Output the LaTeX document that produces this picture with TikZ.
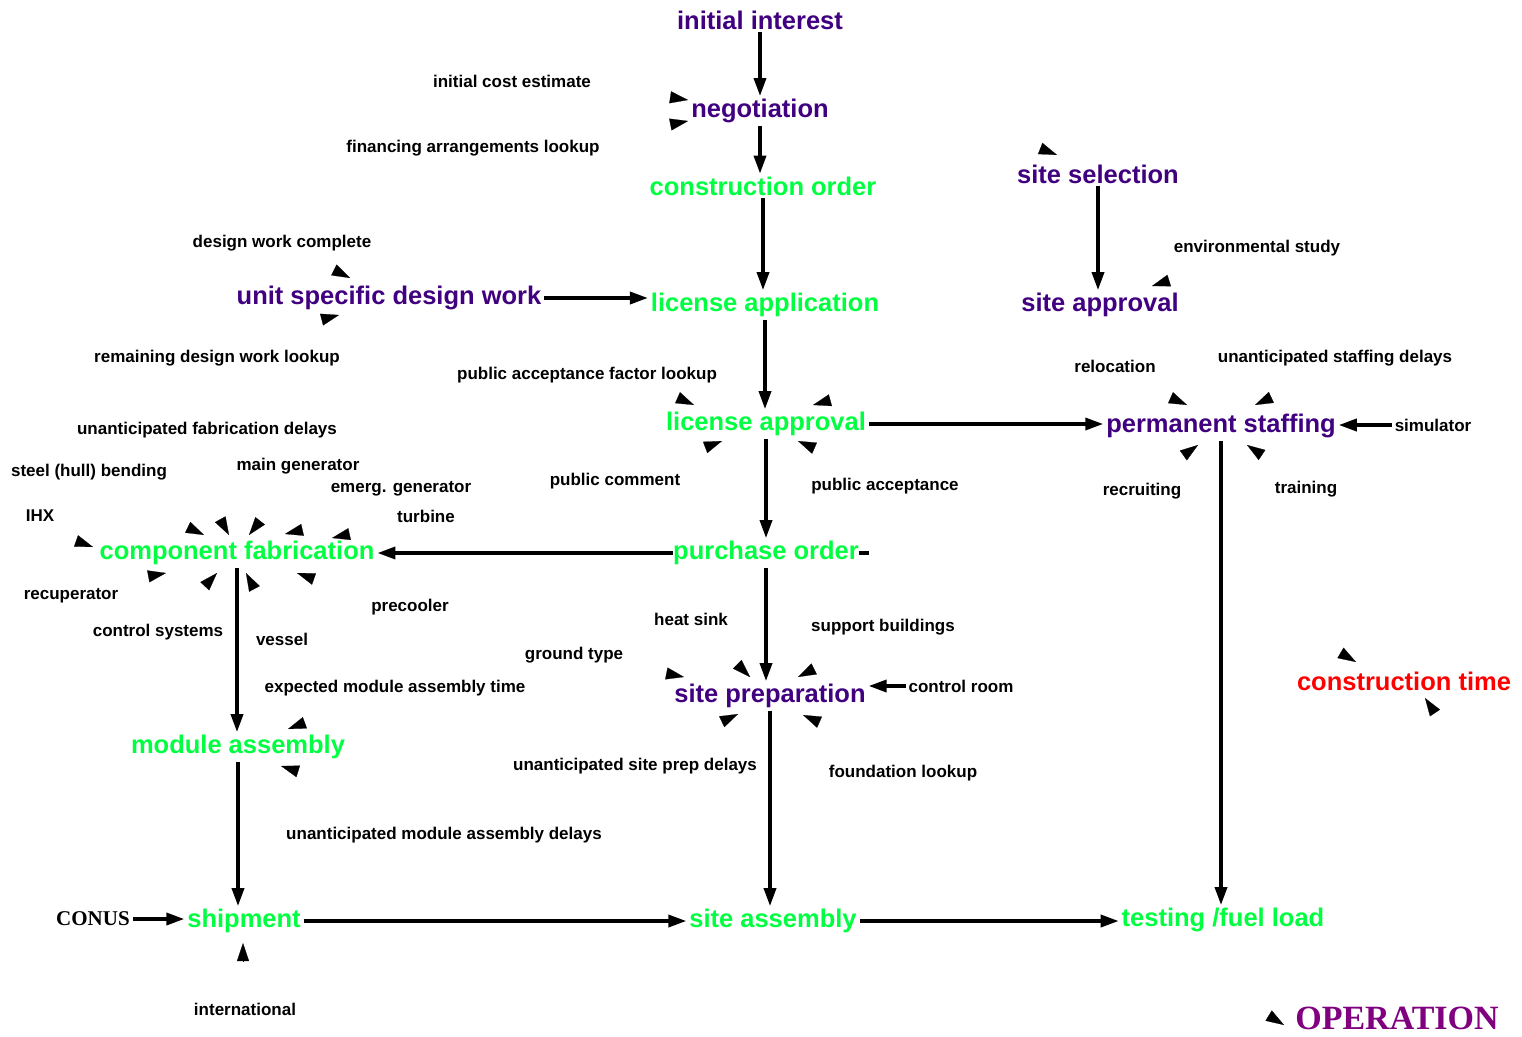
\documentclass[tikz,border=0pt]{standalone}
\usepackage{fontspec}
\setmainfont{Liberation Sans}
\newfontfamily\opfont{Liberation Serif}
\usetikzlibrary{arrows.meta,calc,backgrounds}
\definecolor{lvpurple}{HTML}{400080}
\definecolor{flgreen}{HTML}{00FF40}
\definecolor{opred}{HTML}{FF0000}
\definecolor{opviolet}{HTML}{800080}
\tikzset{
  base/.style={inner sep=0pt, outer sep=0pt, anchor=center},
  stock/.style={base, font=\bfseries\fontsize{25.5}{27}\selectfont, text=lvpurple},
  flow/.style={base, font=\bfseries\fontsize{25.5}{27}\selectfont, text=flgreen},
  aux/.style={base, font=\bfseries\fontsize{17}{18}\selectfont, text=black},
  conn/.style={line width=3.5pt, -{Triangle[length=18pt,width=12pt]}, shorten >=3pt, shorten <=3pt},
  stubhead/.style={line width=0.2pt, -{Triangle[length=18pt,width=12pt]}}
}
\newcommand\arrowstub[2]{\draw[stubhead] ($(#1)!18pt!(#2)$) -- (#1);}
\begin{document}
\begin{tikzpicture}[x=1pt,y=-1pt]
\useasboundingbox (0,0) rectangle (1522,1036);
\begin{scope}[on background layer]
\fill[white] (0,0) rectangle (1522,1036);
\end{scope}

% main chain nodes
\node[stock] (ii)   at (760,20)  {initial interest};
\node[stock] (neg)  at (760,111) {negotiation};
\node[flow]  (co)   at (763,186) {construction order};
\node[stock] (ss)   at (1098,174) {site selection};
\node[stock] (sa)   at (1100,305) {site approval};
\node[stock] (usdw) at (389,298) {unit specific design work};
\node[flow]  (lapp) at (765,305) {license application};
\node[flow]  (lappr) at (766,424) {license approval};
\node[stock] (ps)   at (1221,426) {permanent staffing};
\node[flow]  (cf)   at (237,553) {component fabrication};
\node[flow, fill=white]  (po)   at (766,553) {purchase order};
\node[stock] (sp)   at (770,696) {site preparation};
\node[flow]  (ma)   at (238,747) {module assembly};
\node[base, font=\bfseries\fontsize{25.5}{27}\selectfont, text=opred] (ct) at (1404,681) {construction time};
\node[flow]  (sh)   at (244,921) {shipment};
\node[flow]  (sasm) at (773,921) {site assembly};
\node[flow]  (tfl)  at (1223,920) {testing /fuel load};
\node[base, font=\opfont\bfseries\fontsize{34}{35}\selectfont, text=opviolet] (op) at (1397,1018) {OPERATION};
\node[base, font=\opfont\bfseries\fontsize{21}{22}\selectfont] (conus) at (93,919) {CONUS};

% auxiliary labels
\node[aux] (ice)   at (512,81)  {initial cost estimate};
\node[aux] (fal)   at (473,148) {financing arrangements lookup};
\node[aux] (dwc)   at (282,243) {design work complete};
\node[aux] (es)    at (1257,248) {environmental study};
\node[aux] (rdwl)  at (217,358) {remaining design work lookup};
\node[aux] (pafl)  at (587,375) {public acceptance factor lookup};
\node[aux] (reloc) at (1115,366) {relocation};
\node[aux] (usd)   at (1335,358) {unanticipated staffing delays};
\node[aux] (ufd)   at (207,430) {unanticipated fabrication delays};
\node[aux] (shb)   at (89,472)  {steel (hull) bending};
\node[aux] (mg)    at (298,466) {main generator};
\node[aux] (eg)    at (401,489) {emerg. generator};
\node[aux] (tu)    at (426,516) {turbine};
\node[aux] (ihx)   at (40,516)  {IHX};
\node[aux] (pc)    at (615,481) {public comment};
\node[aux] (sim)   at (1433,425) {simulator};
\node[aux] (pa)    at (885,486) {public acceptance};
\node[aux] (rec)   at (1142,491) {recruiting};
\node[aux] (tr)    at (1306,489) {training};
\node[aux] (recup) at (71,596)  {recuperator};
\node[aux] (cs)    at (158,632) {control systems};
\node[aux] (ves)   at (282,639) {vessel};
\node[aux] (pre)   at (410,607) {precooler};
\node[aux] (hs)    at (691,619) {heat sink};
\node[aux] (sb)    at (883,627) {support buildings};
\node[aux] (gt)    at (574,655) {ground type};
\node[aux] (emat)  at (395,688) {expected module assembly time};
\node[aux] (cr)    at (961,686) {control room};
\node[aux] (uspd)  at (635,766) {unanticipated site prep delays};
\node[aux] (fl)    at (903,773) {foundation lookup};
\node[aux] (umad)  at (444,835) {unanticipated module assembly delays};
\node[aux] (intl)  at (245,1009) {international};

% main connectors
\draw[conn] (ii.south) -- (ii.south |- neg.north);
\draw[conn] (neg.south) -- (neg.south |- co.north);
\draw[conn] (co.south) -- (co.south |- lapp.north);
\draw[conn] (ss.south) -- (ss.south |- sa.north);
\draw[conn] (usdw.east) -- (usdw.east -| lapp.west);
\draw[conn] (lapp.south) -- (lapp.south |- lappr.north);
\draw[conn] (lappr.east) -- (lappr.east -| ps.west);
\draw[conn] (lappr.south) -- (lappr.south |- po.north);
\begin{scope}[on background layer]
\draw[conn, shorten <=-10pt] (po.east) -- (po.east -| cf.east);
\end{scope}
\draw[conn] (po.south) -- (po.south |- sp.north);
\draw[conn] (cf.south) -- (cf.south |- ma.north);
\draw[conn] (ma.south) -- (ma.south |- sh.north);
\draw[conn] (sp.south) -- (sp.south |- sasm.north);
\draw[conn] (ps.south) -- (ps.south |- tfl.north);
\draw[conn] (sh.east) -- (sh.east -| sasm.west);
\draw[conn] (sasm.east) -- (sasm.east -| tfl.west);
\draw[conn] (conus.east) -- (conus.east -| sh.west);
\draw[conn] (sim.west) -- (sim.west -| ps.east);
\draw[conn] (cr.west) -- (cr.west -| sp.east);

% arrowheads of the information links
\arrowstub{688,100}{668,97}
\arrowstub{688,121}{668,125}
\arrowstub{1057,155}{1039,148}
\arrowstub{1152,286}{1171,280}
\arrowstub{350,278}{332,269}
\arrowstub{339,315}{320,320}
\arrowstub{694,405}{676,397}
\arrowstub{813,405}{835,399}
\arrowstub{722,441}{701,449}
\arrowstub{798,441}{814,448}
\arrowstub{1187,405}{1169,397}
\arrowstub{1255,405}{1270,398}
\arrowstub{1198,445}{1184,455}
\arrowstub{1247,445}{1259,453}
\arrowstub{93,547}{79,542}
\arrowstub{204,535}{185,526}
\arrowstub{229,535}{219,517}
\arrowstub{249,535}{260,521}
\arrowstub{285,534}{302,530}
\arrowstub{332,538}{350,534}
\arrowstub{166,573}{145,577}
\arrowstub{217,573}{204,587}
\arrowstub{246,573}{254,588}
\arrowstub{297,573}{314,579}
\arrowstub{684,677}{664,673}
\arrowstub{750,677}{740,667}
\arrowstub{798,677}{814,669}
\arrowstub{738,714}{717,724}
\arrowstub{803,715}{819,722}
\arrowstub{288,729}{307,722}
\arrowstub{281,766}{297,771}
\arrowstub{243,943}{243,960}
\arrowstub{1356,662}{1339,652}
\arrowstub{1425,698}{1435,713}
\arrowstub{1284,1025}{1266,1014}
\end{tikzpicture}
\end{document}
